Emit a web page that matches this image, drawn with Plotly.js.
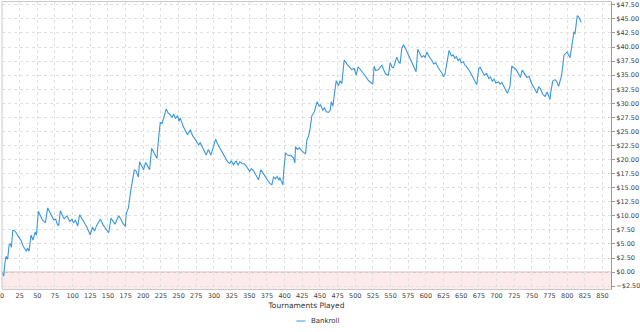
<!DOCTYPE html>
<html>
<head>
<meta charset="utf-8">
<script src="https://cdn.plot.ly/plotly-3.0.1.min.js"></script>
<style>html,body{margin:0;padding:0;background:#fff;}#chart{width:640px;height:332px;}</style>
</head>
<body>
<div id="chart"></div>
<script>
var tournaments = [0,2.5,4,5.8,8,10,11.9,13.3,15.2,17.5,20,24,27,30,32,34.5,36,38.3,41.1,43.9,46.8,48.7,51.5,54,57,61.4,64.7,67,70,73.2,76,78,80.2,82.6,85,88,92,96,99,101,104,107.1,109.9,113,116,120,125,128,131,134,139.2,143,147,151,154.3,157,160,165.1,168,171,174.5,176,179,181.6,185.4,187.3,190,193,194.8,197.5,200.4,203.3,206,208.9,211.8,215,219.3,221.2,224,226.5,229.7,232.5,235,238,241,242.9,245.5,248.5,250.5,252.3,256,262.7,266.5,270,274,278.3,280.5,283,289.1,292,295.7,298.5,302.3,305,308.5,313.5,319.3,322.5,324.5,327.7,331.5,334,336.5,340,343,346,350.4,353,356,363.1,366.4,370,375.5,378.7,382,384.3,387,389.5,392,393,397.6,398.5,401.3,404,409,412.5,414.6,415.4,418.2,421,424,427,429.6,431.5,434,436.2,438.6,441.9,443.7,446.1,449,451,454,456.5,459,462,464.5,466,468.3,470.2,473,476.3,478.5,481,484.3,488,492,495,498.5,501.3,504.1,509,514,519,524.9,526.7,529,533,537.6,540,543,547,549.4,552,554,556.4,558.7,561.5,563.5,565.9,568.2,572,577.5,582,586.1,588.5,591.5,594,597,599,601.3,604,608.5,611,614,617,622.5,624.8,627,632.8,636,638.5,641,643,645.5,648,650,653,655,657,662,667,672,674.8,677,680,683,686,689,691.5,694,696.5,699,703,705,707.5,710.5,715.3,717,719,721.5,724,727,730,733.9,736.3,739,743,746,750,754,757.2,759.5,762,765.5,768.7,771.5,773.5,775.7,776.6,779.4,782.7,785,787.9,792.2,795.5,800,804,806.4,809.6,811,814.3,817,819.8];
var bankroll = [0,-0.7,1.5,2.8,2.3,4.8,5.0,4.4,7.4,7.4,7.0,6.3,5.6,4.6,4.2,3.7,4.3,3.7,6.6,5.7,7.1,6.6,10.8,10.0,9.3,8.8,11.4,10.8,10.0,9.3,9.4,8.6,8.2,10.9,10.2,9.5,10.0,9.0,9.4,8.8,9.2,8.2,10.2,9.4,8.9,8.0,6.6,8.0,7.3,8.3,9.4,8.4,7.6,7.0,9.6,9.0,8.5,10.0,9.5,8.7,8.1,10.5,11.4,14.0,16.7,18.2,17.9,16.9,19.6,19.0,18.2,19.5,18.8,18.2,22.0,21.2,20.2,23.2,26.6,26.4,27.9,29.0,28.3,28.0,27.5,28.1,27.3,27.8,26.8,27.4,26.0,24.4,25.3,24.2,23.5,22.6,23.0,22.3,20.8,21.8,20.8,22.0,23.6,22.8,22.0,20.8,19.6,19.3,19.8,19.1,19.8,19.0,19.6,19.3,19.2,18.8,17.9,18.4,18.0,16.4,18.2,17.5,16.5,15.8,15.5,16.9,16.6,17.0,16.3,16.8,15.5,17.6,21.2,20.8,20.7,20.3,19.4,22.3,21.8,22.1,21.6,21.2,21.0,23.5,24.2,25.6,27.8,28.4,29.3,30.3,29.5,29.7,28.8,29.2,28.5,28.4,28.7,30.3,29.5,31.7,34.0,33.1,34.0,33.5,37.7,37.0,36.5,36.0,36.2,35.0,36.5,35.8,34.9,34.0,33.4,36.6,35.8,36.0,36.8,36.0,35.2,35.0,37.2,36.4,36.3,37.2,38.2,37.3,37.1,39.8,40.4,39.5,38.0,36.8,35.6,39.6,38.9,38.2,38.5,38.1,39.1,38.4,37.6,37.0,37.2,36.4,35.4,34.7,35.2,39.4,38.4,38.6,38.0,38.3,37.6,37.9,37.2,37.4,36.8,36.6,35.7,34.6,33.3,36.2,36.4,35.6,35.0,35.3,34.4,34.7,33.9,34.3,33.6,33.8,33.4,33.7,32.9,31.8,32.3,33.0,36.6,36.4,36.1,35.5,34.6,35.9,35.4,34.6,34.8,33.4,32.6,31.8,32.9,32.6,31.6,31.2,32.0,31.5,30.7,31.8,33.9,34.2,33.9,33.0,35.0,38.6,39.1,38.1,40.1,42.7,42.3,45.6,45.2,44.4];

var xRange = [0, 862];
var yRange = [-3, 48];
var fontFam = '"DejaVu Sans", sans-serif';

var trace = {
  x: tournaments, y: bankroll, type: 'scatter', mode: 'lines', name: 'Bankroll',
  line: {color: '#3a98e0', width: 1.1}, showlegend: false
};

var layout = {
  width: 640, height: 332,
  margin: {l: 2, r: 29, t: 2, b: 43},
  paper_bgcolor: '#ffffff', plot_bgcolor: '#ffffff',
  font: {family: fontFam, size: 6.5, color: '#444'},
  xaxis: {
    range: xRange, tick0: 0, dtick: 25, showgrid: true, gridcolor: '#e0e0e0', griddash: '3px,3px', gridwidth: 1,
    zeroline: false, showline: true, linecolor: '#c8c8c8', linewidth: 1, mirror: true,
    ticks: '', ticklabeloverflow: 'allow', tickfont: {family: fontFam, size: 6.5, color: '#444'},
    title: {text: 'Tournaments Played', font: {family: fontFam, size: 7.5, color: '#333'}, standoff: 3}
  },
  yaxis: {
    range: yRange, side: 'right', tick0: 0, dtick: 2.5, tickformat: '$.2f',
    showgrid: true, gridcolor: '#e0e0e0', griddash: '3px,3px', gridwidth: 1,
    zeroline: false, showline: true, linecolor: '#9a9a9a', linewidth: 1,
    ticks: 'outside', ticklen: 3, tickcolor: '#9a9a9a', ticklabeloverflow: 'allow',
    tickfont: {family: fontFam, size: 6.5, color: '#444'}
  },
  shapes: [
    {type: 'rect', xref: 'paper', yref: 'y', x0: 0, x1: 1, y0: yRange[0], y1: 0, fillcolor: '#fdeaea', line: {width: 0}, layer: 'below'},
    {type: 'line', xref: 'paper', yref: 'y', x0: 0, x1: 1, y0: 0, y1: 0, line: {color: '#e3a0a0', width: 1}, layer: 'below'},
    {type: 'line', xref: 'paper', yref: 'paper', x0: 0, x1: 0, y0: 0, y1: 1, line: {color: '#c8c8c8', width: 1}},
    {type: 'line', xref: 'paper', yref: 'paper', x0: 0.4834, x1: 0.4982, y0: -0.1116, y1: -0.1116, line: {color: '#3a98e0', width: 1}}
  ],
  annotations: [
    {xref: 'paper', yref: 'paper', x: 0.5036, y: -0.1116, xanchor: 'left', yanchor: 'middle', showarrow: false,
     text: 'Bankroll', font: {family: fontFam, size: 7, color: '#333'}}
  ]
};

Plotly.newPlot('chart', [trace], layout, {displayModeBar: false, staticPlot: true});
</script>
</body>
</html>
